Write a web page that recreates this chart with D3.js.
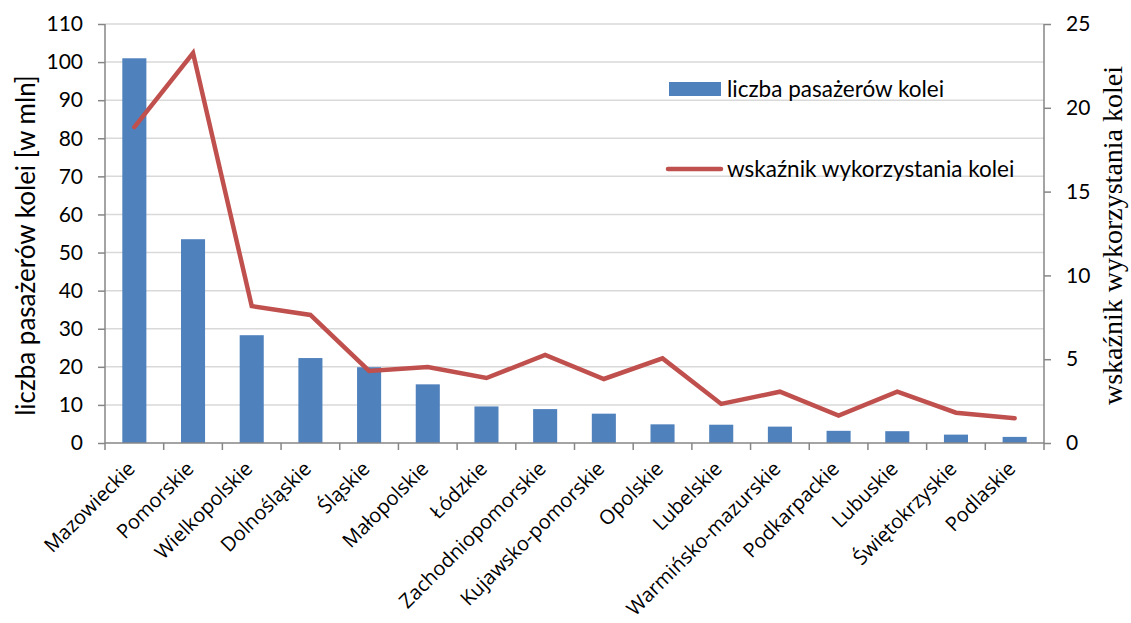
<!DOCTYPE html>
<html><head><meta charset="utf-8">
<script src="https://cdn.jsdelivr.net/npm/d3@7"></script>
<style>body{margin:0;background:#fff}text{font-family:Lato,"Open Sans",sans-serif;fill:#000}</style>
</head><body><svg id="c" width="1131" height="623"></svg>
<script>
const categories=["Mazowieckie","Pomorskie","Wielkopolskie","Dolnośląskie","Śląskie","Małopolskie","Łódzkie","Zachodniopomorskie","Kujawsko-pomorskie","Opolskie","Lubelskie","Warmińsko-mazurskie","Podkarpackie","Lubuskie","Świętokrzyskie","Podlaskie"];
const passengers=[101,53.5,28.3,22.3,19.9,15.4,9.6,8.9,7.7,4.9,4.8,4.3,3.2,3.1,2.2,1.6];
const usageIndex=[18.85,23.27,8.17,7.64,4.3,4.53,3.88,5.25,3.82,5.05,2.33,3.06,1.63,3.06,1.81,1.47];
const leftTicks=[0,10,20,30,40,50,60,70,80,90,100,110];
const rightTicks=[0,5,10,15,20,25];
const seriesNames=["liczba pasażerów kolei","wskaźnik wykorzystania kolei"];
const axisTitles=["liczba pasażerów kolei [w mln]","wskaźnik wykorzystania kolei"];

const svg=d3.select("#c");
const L=105,R=1044,T=24,B=443;
const x=d3.scaleBand().domain(categories).range([L,R]).paddingInner(0.59).paddingOuter(0.295);
const xb=d3.scaleBand().domain(categories).range([L,R]);
const yL=d3.scaleLinear().domain([0,110]).range([B,T]);
const yR=d3.scaleLinear().domain([0,25]).range([B,T]);
const axisColor="#868686";

// gridlines
svg.append("g").selectAll("line").data(leftTicks.slice(1)).join("line")
 .attr("x1",L).attr("x2",R).attr("y1",d=>yL(d)).attr("y2",d=>yL(d))
 .attr("stroke","#d9d9d9").attr("stroke-width",1.5);

// bars
svg.append("g").selectAll("rect").data(passengers).join("rect")
 .attr("x",(d,i)=>x(categories[i])).attr("width",x.bandwidth())
 .attr("y",d=>yL(d)).attr("height",d=>B-yL(d)).attr("fill","#4F81BD");

// axes
const gl=svg.append("g").attr("transform",`translate(${L},0)`)
 .call(d3.axisLeft(yL).tickValues(leftTicks).tickSize(7).tickPadding(15));
const gr=svg.append("g").attr("transform",`translate(${R},0)`)
 .call(d3.axisRight(yR).tickValues(rightTicks).tickSize(7).tickPadding(15));
const bnds=categories.map(c=>xb(c)).concat([R]);
const gx=svg.append("g");
gx.append("line").attr("x1",L).attr("x2",R).attr("y1",B).attr("y2",B).attr("stroke",axisColor).attr("stroke-width",1.5);
gx.selectAll("line.t").data(bnds).join("line").attr("class","t")
 .attr("x1",d=>d).attr("x2",d=>d).attr("y1",B).attr("y2",B+7).attr("stroke",axisColor).attr("stroke-width",1.5);
[gl,gr].forEach(g=>{
 g.select(".domain").attr("stroke",axisColor).attr("stroke-width",1.5);
 g.selectAll(".tick line").attr("stroke",axisColor).attr("stroke-width",1.5);
 g.selectAll(".tick text").style("font-size","21px").style("font-family","Lato, 'Open Sans', sans-serif").attr("fill","#000");
});
gl.select(".domain").attr("d",`M0,${T}V${B}`);
gr.select(".domain").attr("d",`M0,${T}V${B}`);

// x labels
svg.append("g").selectAll("text").data(categories).join("text")
 .attr("transform",d=>`translate(${xb(d)+xb.bandwidth()/2-3},${B+22}) rotate(-45)`)
 .attr("text-anchor","end").attr("dy","0.35em")
 .style("font-family","'Open Sans', sans-serif").style("font-size","20px").text(d=>d);

// line
const line=d3.line().x((d,i)=>xb(categories[i])+xb.bandwidth()/2).y(d=>yR(d));
svg.append("path").datum(usageIndex).attr("d",line).attr("fill","none")
 .attr("stroke","#C0504D").attr("stroke-width",4.5).attr("stroke-linejoin","miter").attr("stroke-linecap","round");

// axis titles
svg.append("text").attr("transform",`translate(35,${(T+B)/2+12}) rotate(-90)`).attr("text-anchor","middle")
 .style("font-size","26px").text(axisTitles[0]);
svg.append("text").attr("transform",`translate(1122,${(T+B)/2+2}) rotate(-90)`).attr("text-anchor","middle")
 .style("font-family","'Liberation Serif', 'DejaVu Serif', serif").style("font-size","28px").text(axisTitles[1]);

// legend
svg.append("rect").attr("x",669).attr("y",82).attr("width",52).attr("height",14).attr("fill","#4F81BD");
svg.append("text").attr("x",727).attr("y",97).style("font-size","22.5px").text(seriesNames[0]);
svg.append("line").attr("x1",668).attr("x2",721).attr("y1",169).attr("y2",169).attr("stroke","#C0504D").attr("stroke-width",4.5).attr("stroke-linecap","round");
svg.append("text").attr("x",727).attr("y",177).style("font-size","22.5px").text(seriesNames[1]);
</script></body></html>
